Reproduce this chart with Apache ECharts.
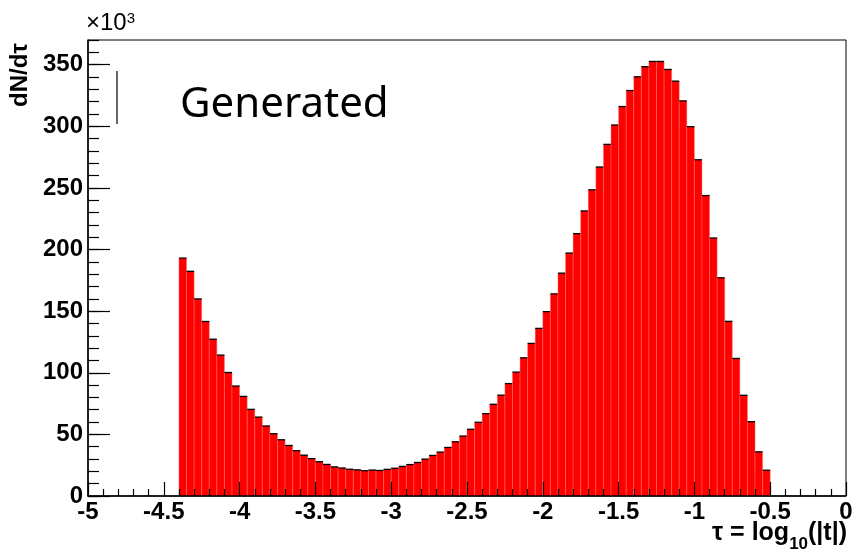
<!DOCTYPE html>
<html>
<head>
<meta charset="utf-8">
<script src="https://cdn.jsdelivr.net/npm/echarts@6/dist/echarts.min.js"></script>
<style>
html,body{margin:0;padding:0;background:#fff;}
#chart{width:856px;height:555px;}
</style>
</head>
<body>
<div id="chart"></div>
<script>
// Histogram: tau = log10(|t|), bins of width 0.05 starting at -4.4 (values in units of 10^3)
const binStart = -4.4;
const binWidth = 0.05;
const counts = [
  193.0, 182.3, 159.9, 141.6, 127.2, 114.3, 100.2, 89.2, 80.8, 70.3,
  64.0, 56.8, 50.5, 45.6, 41.0, 36.8, 33.1, 30.3, 27.8, 25.6,
  23.6, 22.7, 21.7, 21.2, 20.5, 21.0, 20.7, 21.6, 22.5, 24.0,
  25.5, 27.2, 29.9, 32.9, 35.6, 39.4, 44.0, 48.6, 54.1, 59.8,
  66.8, 74.4, 81.8, 91.2, 100.5, 112.1, 123.8, 136.0, 149.6, 164.0,
  180.8, 197.1, 212.9, 231.3, 248.4, 266.9, 285.3, 301.0, 316.0, 329.0,
  340.1, 348.3, 352.6, 352.6, 346.1, 336.6, 320.6, 299.7, 272.8, 243.8,
  209.3, 177.0, 141.7, 111.6, 81.7, 60.3, 35.8, 20.9
];
const xMin = -5, xMax = 0, xInterval = 0.5;
const yMin = 0, yMax = 370, yInterval = 50, yMinorInterval = 10;
const legendLabel = 'Generated';
const yTitle = 'dN/dτ';
const yScaleLabel = '×10';

const histData = counts.map((c, i) => [binStart + i * binWidth, binStart + (i + 1) * binWidth, c]);

const chart = echarts.init(document.getElementById('chart'), null, {renderer: 'canvas'});
const FONT = 'Liberation Sans, Arial, sans-serif';
const labelFont = {fontFamily: FONT, fontWeight: 'bold', fontSize: 24, color: '#000'};
const gridBox = {left: 88, right: 10, top: 40, bottom: 59};

chart.setOption({
  animation: false,
  backgroundColor: '#fff',
  grid: [
    Object.assign({show: true, borderColor: '#000', borderWidth: 1, containLabel: false}, gridBox),
    Object.assign({show: false, containLabel: false}, gridBox)
  ],
  xAxis: [{
    gridIndex: 0, type: 'value', min: xMin, max: xMax, interval: xInterval, z: 10, position: 'bottom',
    axisLine: {show: true, onZero: false, lineStyle: {color: '#000', width: 1.5}},
    axisTick: {show: true, inside: true, length: 14, lineStyle: {color: '#000', width: 1.2}},
    minorTick: {show: true, splitNumber: 5, length: 7, lineStyle: {color: '#000', width: 1.2}},
    splitLine: {show: false},
    axisLabel: Object.assign({margin: 4}, labelFont)
  }, {
    gridIndex: 1, type: 'value', min: xMin, max: xMax, position: 'bottom', show: false,
    axisLine: {onZero: false}
  }],
  yAxis: [{
    gridIndex: 0, type: 'value', min: yMin, max: yMax, interval: yInterval, z: 10, position: 'left',
    axisLine: {show: true, onZero: false, lineStyle: {color: '#000', width: 1.5}},
    axisTick: {show: true, inside: true, length: 22, lineStyle: {color: '#000', width: 1.2}},
    splitLine: {show: false},
    axisLabel: Object.assign({margin: 5, showMaxLabel: false}, labelFont)
  }, {
    gridIndex: 1, type: 'value', min: yMin, max: yMax, interval: yMinorInterval, z: 10, position: 'left',
    axisLine: {show: false, onZero: false},
    axisTick: {show: true, inside: true, length: 11, lineStyle: {color: '#000', width: 1.2}},
    splitLine: {show: false},
    axisLabel: {show: false}
  }],
  series: [{
    type: 'custom',
    name: legendLabel,
    xAxisIndex: 0,
    yAxisIndex: 0,
    data: histData,
    encode: {x: [0, 1], y: 2},
    renderItem: function (params, api) {
      const p0 = api.coord([api.value(0), api.value(2)]);
      const p1 = api.coord([api.value(1), 0]);
      return {
        type: 'group',
        children: [{
          type: 'rect',
          shape: {x: p0[0], y: p0[1], width: p1[0] - p0[0], height: p1[1] - p0[1]},
          style: {fill: '#ff0000', stroke: 'rgba(255,120,120,0.7)', lineWidth: 0.6}
        }, {
          type: 'line',
          shape: {x1: p0[0], y1: p0[1], x2: p1[0], y2: p0[1]},
          style: {stroke: '#000', lineWidth: 1.3}
        }]
      };
    }
  }],
  graphic: [
    {type: 'line', shape: {x1: 117, y1: 71, x2: 117, y2: 124}, style: {stroke: '#000', lineWidth: 1.2}},
    {type: 'text', left: 180, top: 84, style: {text: legendLabel, fontFamily: 'Noto Sans, Lato, sans-serif', fontSize: 42, fill: '#000'}},
    {type: 'text', x: 20, y: 75, rotation: Math.PI / 2,
      style: {text: yTitle, fontFamily: FONT, fontWeight: 'bold', fontSize: 24, fill: '#000', align: 'center', verticalAlign: 'middle'}},
    {type: 'text', left: 86, top: 11,
      style: {text: '{a|' + yScaleLabel + '}{s|3}', fill: '#000',
        rich: {a: {fontFamily: FONT, fontSize: 24, verticalAlign: 'bottom'},
               s: {fontFamily: FONT, fontSize: 15, verticalAlign: 'top'}}}},
    {type: 'text', right: 9, top: 521,
      style: {text: '{a|τ = log}{s|10}{a|(|t|)}', fill: '#000',
        rich: {a: {fontFamily: FONT, fontWeight: 'bold', fontSize: 25, verticalAlign: 'bottom', padding: [0, 0, 7, 0]},
               s: {fontFamily: FONT, fontWeight: 'bold', fontSize: 17, verticalAlign: 'bottom'}}}}
  ]
});
</script>
</body>
</html>
